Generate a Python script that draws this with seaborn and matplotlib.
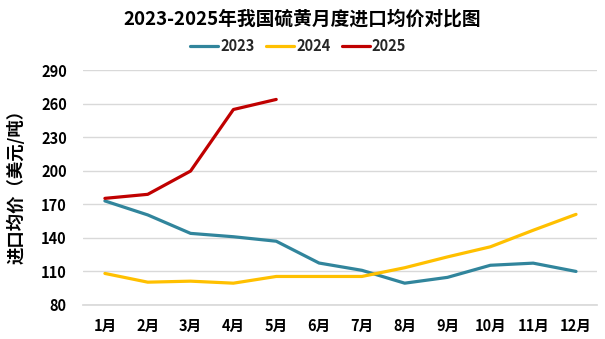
import matplotlib
matplotlib.use("Agg")
import matplotlib.pyplot as plt
import seaborn as sns
import pandas as pd
from matplotlib.lines import Line2D

months = ["1月", "2月", "3月", "4月", "5月", "6月", "7月", "8月", "9月", "10月", "11月", "12月"]
v2023 = [173, 160.5, 144, 141, 137, 117.5, 111, 99.5, 104.7, 115.5, 117.4, 110]
v2024 = [108.2, 100.4, 101.3, 99.5, 105.5, 105.5, 105.5, 113.3, 123, 132, 146.8, 161]
v2025 = [175.3, 178.9, 199.7, 254.7, 263.7]
yticks = [80, 110, 140, 170, 200, 230, 260, 290]

rows = []
for year, vals in (("2023", v2023), ("2024", v2024), ("2025", v2025)):
    for m, v in zip(months, vals):
        rows.append({"month": m, "value": v, "year": year})
df = pd.DataFrame(rows)

sns.set_theme(style="white")
plt.rcParams['font.family'] = ['Noto Sans CJK SC', 'DejaVu Sans']

fig = plt.figure(figsize=(6.05, 3.39), dpi=100)
ax = fig.add_axes([0.138, 0.1003, 0.8495, 0.6932])

palette = {"2023": "#31859C", "2024": "#FFC000", "2025": "#C00000"}
sns.lineplot(data=df, x="month", y="value", hue="year", palette=palette,
             sort=False, linewidth=2.3, ax=ax, legend=False)

ax.set_xlim(-0.5, 11.5)
ax.set_ylim(80, 290)
ax.set_yticks(yticks)
ax.set_xticks(range(len(months)))
ax.set_xticklabels(months, fontweight="bold", fontsize=10.5)
ax.set_yticklabels([str(t) for t in yticks], fontweight="bold", fontsize=10.5)
ax.grid(axis="y", color="#D9D9D9", linewidth=1)
ax.set_axisbelow(True)
for s in ["top", "right", "left"]:
    ax.spines[s].set_visible(False)
ax.spines["bottom"].set_color("#D9D9D9")
ax.tick_params(axis="both", length=0, pad=9, colors="black")
ax.tick_params(axis="y", pad=12)
ax.set_xlabel("")
ax.set_ylabel("")

fig.text(0.027, 0.462, "进口均价（美元/吨）", rotation=90, ha="center", va="center",
         fontsize=12.5, fontweight="bold", color="black")
fig.text(0.5, 0.945, "2023-2025年我国硫黄月度进口均价对比图", ha="center", va="center",
         fontsize=13.5, fontweight="bold", color="black")

handles = [Line2D([0], [0], color=palette[y], linewidth=2.3) for y in ["2023", "2024", "2025"]]
leg = fig.legend(handles, ["2023", "2024", "2025"], loc="center", bbox_to_anchor=(0.493, 0.865),
                 ncol=3, frameon=False, prop={"weight": "bold", "size": 10.5},
                 handlelength=1.9, handletextpad=0.15, columnspacing=0.8)

fig.savefig("out.png", dpi=100)
